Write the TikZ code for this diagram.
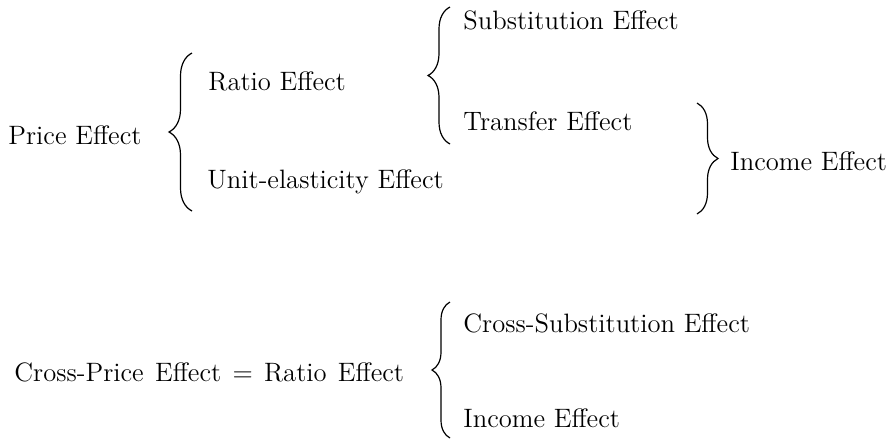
\documentclass[tikz,border=0pt]{standalone}
\usetikzlibrary{decorations.pathreplacing}
\begin{document}
\begin{tikzpicture}[
    x=0.5pt, y=-0.5pt,
    every node/.style={anchor=base west, inner sep=0pt, font=\fontsize{13.3}{15}\selectfont},
    curly brace/.style={draw, line width=0.6pt, decorate, decoration={brace, amplitude=#1}},
    curly brace/.default=11pt,
    ]
\useasboundingbox (0,0) rectangle (891,440);
% upper scheme
\node (price) at (8,144) {Price Effect};
\node (ratio) at (208,90) {Ratio Effect};
\node (unit) at (207,188) {Unit-elasticity Effect};
\node (subst) at (463,29) {Substitution Effect};
\node (transfer) at (463,130) {Transfer Effect};
\node (income) at (730,170) {Income Effect};
\coordinate (priceTop) at (192,53);
\coordinate (priceBot) at (192,211);
\coordinate (ratioTop) at (450,7);
\coordinate (ratioBot) at (450,144);
\coordinate (incomeTop) at (697,103);
\coordinate (incomeBot) at (697,214);
\draw[curly brace=11.5pt] (priceBot) -- (priceTop);
\draw[curly brace] (ratioBot) -- (ratioTop);
\draw[curly brace=10.5pt] (incomeTop) -- (incomeBot);
% lower scheme
\node (crossprice) at (14,381) {Cross-Price\hspace{1.3pt} Effect\hspace{1.3pt} =\hspace{1.3pt} Ratio\hspace{1.3pt} Effect};
\node (crosssubst) at (463,332) {Cross-Substitution Effect};
\node (incomeB) at (463,427) {Income Effect};
\coordinate (crossTop) at (450,302);
\coordinate (crossBot) at (450,438);
\draw[curly brace=9pt] (crossBot) -- (crossTop);
\end{tikzpicture}
\end{document}
